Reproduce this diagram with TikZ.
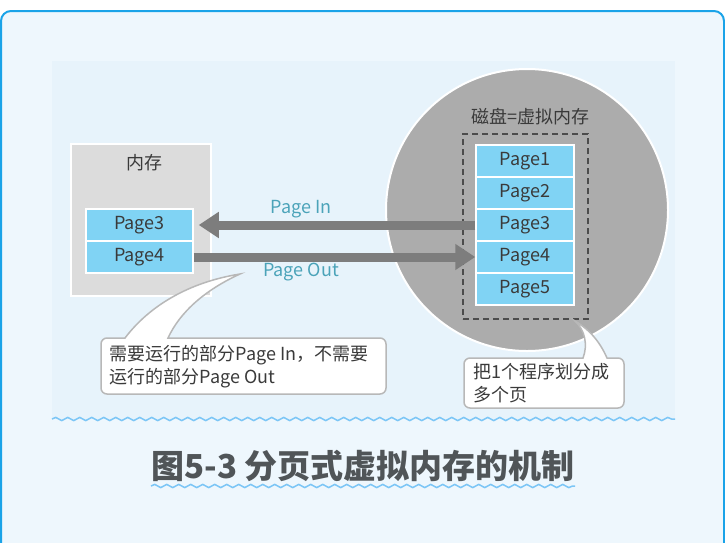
\documentclass[tikz,border=0pt]{standalone}
\usepackage{fontspec}
\newfontfamily\cjk{Noto Sans CJK SC}
\usetikzlibrary{arrows.meta,decorations.pathmorphing}
\definecolor{framebl}{HTML}{1AA3E8}
\definecolor{bgbl}{HTML}{EEF7FD}
\definecolor{panelbl}{HTML}{E7F3FB}
\definecolor{pagebl}{HTML}{80D3F4}
\definecolor{wavebl}{HTML}{7CC6F6}
\definecolor{memgray}{HTML}{DCDCDC}
\definecolor{diskgray}{HTML}{ACACAC}
\definecolor{arrgray}{HTML}{7D7D7D}
\definecolor{txtgray}{HTML}{3A3A3A}
\definecolor{lblteal}{HTML}{4BA3B9}
\definecolor{capgray}{HTML}{505558}
\begin{document}
\begin{tikzpicture}[x=1pt, y=-1pt, font=\cjk\fontsize{18}{23}\selectfont, text=txtgray,
	page/.style={draw=white, line width=1.5pt, fill=pagebl, minimum height=32pt, inner sep=0pt},
	bigarrow/.style={draw=arrgray, line width=9pt, -{Triangle[length=20pt, width=25pt]}},
	wave/.style={draw=wavebl, line width=1.5pt, decorate, decoration={snake, amplitude=1.6pt, segment length=12pt}},
	callout/.style={draw=black!28, fill=white, line width=1.5pt},
	lbl/.style={text=lblteal}]
		\useasboundingbox (0,0) rectangle (725,542);
		\draw[framebl, fill=bgbl, line width=2pt, rounded corners=10pt] (1,11) rectangle (724,580);
		\fill[panelbl] (52,61) rectangle (675,419);
		\draw[wave] (52,419) -- (675,419);

		\node[draw=white, line width=1.5pt, fill=memgray, minimum width=140pt, minimum height=152pt] (mem) at (141,220) {};
		\node (memlbl) at (144,163) {内存};
		\node[page, minimum width=107pt] (mp3) at (139.5,225) {Page3};
		\node[page, minimum width=107pt] (mp4) at (139.5,257) {Page4};

		\node[circle, draw=white, line width=2pt, fill=diskgray, minimum size=282pt] (disk) at (527,210) {};
		\node (disklbl) at (530,117) {磁盘=虚拟内存};
		\node[draw=black!70, line width=1.5pt, dash pattern=on 6pt off 4pt, minimum width=125pt, minimum height=185pt] (vmem) at (525.5,226.5) {};
		\foreach \i [evaluate=\i as \y using 129+32*\i] in {1,...,5}
			\node[page, minimum width=98pt] (dp\i) at (525,\y) {Page\i};

		\path (dp3) edge[bigarrow, shorten >=5pt] (mp3)
		(mp4) edge[bigarrow] (dp4);
		\node[lbl] (inlbl) at (301,209) {Page In};
		\node[lbl] (outlbl) at (301,272) {Page Out};

		\draw[callout] (168,338) [rounded corners=6pt] -- (386,338) -- (386,394) -- (101,394) -- (101,338) [sharp corners] -- (125,338) .. controls (150,305) and (190,282) .. (240,274) .. controls (205,290) and (180,312) .. (168,338) -- cycle;
		\node[anchor=west, align=left] (note1) at (106,366.5) {需要运行的部分Page In，不需要\\运行的部分Page Out};
		\draw[callout] (607,358) [rounded corners=6pt] -- (624,358) -- (624,408) -- (464,408) -- (464,358) [sharp corners] -- (583,358) .. controls (588,345) and (585,330) .. (575,321) .. controls (590,330) and (600,342) .. (607,358) -- cycle;
		\node[anchor=west, align=left] (note2) at (470,383.5) {把1个程序划分成\\多个页};

		\node[text=capgray] (cap) at (363,466) {\fontsize{33}{36}\selectfont\bfseries 图5-3 分页式虚拟内存的机制};
		\draw[wave] (151,486) -- (575,486);
	\end{tikzpicture}
\end{document}
